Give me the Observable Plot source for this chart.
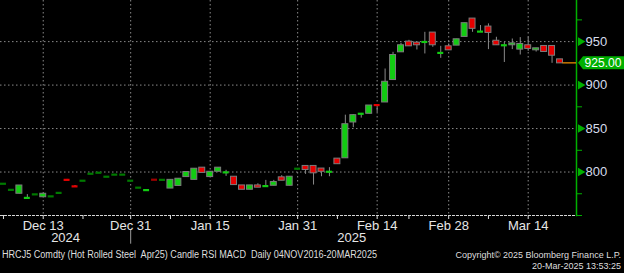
<!DOCTYPE html>
<html><head><meta charset="utf-8">
<script src="https://cdn.jsdelivr.net/npm/d3@7"></script>
<script src="https://cdn.jsdelivr.net/npm/@observablehq/plot@0.6"></script>
<style>
html,body{margin:0;padding:0;background:#000;overflow:hidden}
#chart svg{display:block}
</style></head><body><div id="chart"></div>
<script>
// ---- data ----
const dates = [
 "2024-12-06","2024-12-09","2024-12-10","2024-12-11","2024-12-12","2024-12-13",
 "2024-12-16","2024-12-17","2024-12-18","2024-12-19","2024-12-20",
 "2024-12-23","2024-12-24","2024-12-26","2024-12-27","2024-12-30","2024-12-31",
 "2025-01-02","2025-01-03","2025-01-06","2025-01-07","2025-01-08","2025-01-09","2025-01-10",
 "2025-01-13","2025-01-14","2025-01-15","2025-01-16","2025-01-17",
 "2025-01-21","2025-01-22","2025-01-23","2025-01-24",
 "2025-01-27","2025-01-28","2025-01-29","2025-01-30","2025-01-31",
 "2025-02-03","2025-02-04","2025-02-05","2025-02-06","2025-02-07",
 "2025-02-10","2025-02-11","2025-02-12","2025-02-13","2025-02-14",
 "2025-02-18","2025-02-19","2025-02-20","2025-02-21",
 "2025-02-24","2025-02-25","2025-02-26","2025-02-27","2025-02-28",
 "2025-03-03","2025-03-04","2025-03-05","2025-03-06","2025-03-07",
 "2025-03-10","2025-03-11","2025-03-12","2025-03-13","2025-03-14",
 "2025-03-17","2025-03-18","2025-03-19","2025-03-20"];
const open = [
 786.5,779.5,775,769.5,774.3,771,
 772,776,791.5,784.5,790,
 798,799.2,794.6,797,797,790,
 782,778.7,791.3,791,781,784,794.2,
 791,805,794.2,800.3,799.2,
 794.6,784.6,779.6,784.6,
 783.4,784.2,793.9,784.2,803.8,
 807,807,804,800,815.4,
 815.8,857,866.6,867,877.4,
 880,905.8,937.7,950,
 948.8,949.2,960.4,936.6,944.6,
 945.4,955.4,976.5,961.1,967.3,
 951,945.4,945.8,940.8,945.8,
 940,945,945,929.6];
const high = [
 786.5,779.5,784.5,774,774.3,775,
 772,776,791.5,784.5,790,
 798,799.2,794.6,797,797,790,
 782,779.7,791.3,791,791,792.3,800,
 803.8,805,800.3,805,802,
 794.6,784.6,784.6,786.5,
 790.4,790.4,795.8,794.6,803.8,
 807,807,804,805,815.4,
 865.4,866,867.4,876.5,877.4,
 918.5,937.7,948,951.5,
 948.8,960.7,960.4,944.6,947.3,
 952.7,971.2,976.5,968.5,970.4,
 955,949,953,954.6,955,
 942.3,945,945,929.6];
const low = [
 786.5,779.5,775,769.5,774.3,771,
 772,776,790.5,782.5,790,
 798,799.2,794.6,797,797,790,
 782,778.7,791,791,781,784,794.2,
 791,799,794.2,800.3,795,
 785,779.6,779.6,782,
 783.4,784.2,790,784.2,803.8,
 797.3,785,794.6,794.6,809,
 815.8,851,862,867,868.5,
 880,905.8,937.7,944.6,
 940.4,935.8,943.5,930.8,940,
 945.4,955.4,960.7,961.1,940.8,
 945.8,926,940.8,934.6,938.8,
 938,938.1,925,925];
const close = [
 786.5,779.5,784.5,771,774.3,775,
 772,776,790.5,782.5,790,
 798,799.2,794.6,797,797,790,
 782,779.7,791,791,791,792.3,800,
 803.8,799,800.3,805,800,
 785,779.6,784.6,782,
 784.2,788.5,790,794.6,803.8,
 802.3,798.5,800.3,800.6,809,
 855,865.4,867.4,876.5,876.6,
 903.8,934.6,945.8,944.6,
 945.8,950,945.8,937.4,940,
 952.7,971.2,964.7,961.9,960,
 945.8,946.2,948,947.3,941.6,
 942.3,938.1,933.8,925];

const xTickDates  = ["2024-12-13","2024-12-31","2025-01-15","2025-01-31","2025-02-14","2025-02-28","2025-03-14"];
const xTickLabels = ["Dec 13","Dec 31","Jan 15","Jan 31","Feb 14","Feb 28","Mar 14"];
const xMinorDates = ["2024-12-06","2024-12-20","2025-01-08","2025-01-23","2025-02-07","2025-02-21","2025-03-07"];
const yearLabels  = ["2024","2025"];
const yearAnchors = ["2024-12-18","2025-02-11"];
const yearBreak   = "2024-12-31";
const yTicks      = [800, 850, 900, 950];
const yMinorTicks = [750, 775, 825, 875, 975];
const lastPrice   = 925.00;

const footerLeft  = "HRCJ5 Comdty (Hot Rolled Steel  Apr25) Candle RSI MACD  Daily 04NOV2016-20MAR2025";
const footerRight1 = "Copyright\u00A9 2025 Bloomberg Finance L.P.";
const footerRight2 = "20-Mar-2025 13:53:25";

// ---- styles ----
const GREEN = "#12cc12", RED = "#e60000", DKGREEN = "#007a00", DKRED = "#a00000";
const AXISGREEN = "#00b000", OUTLINE = "#7c7c7c", GRID = "#8a8a8a";

const candles = dates.map((d, i) => ({date: d, open: open[i], high: high[i], low: low[i], close: close[i]}));
const isFlat = d => d.high - d.low < 0.9;
const isThin = d => Math.abs(d.open - d.close) < 2.2;
const colorOf = d => {
  const up = d.close >= d.open;
  if (isFlat(d)) return up ? DKGREEN : DKRED;
  return up ? GREEN : RED;
};

const plot = Plot.plot({
  width: 624, height: 273,
  marginTop: 0, marginLeft: 0, marginRight: 48, marginBottom: 58,
  style: {background: "#000", color: "#e8e8e8", fontFamily: "Liberation Sans, Arial, sans-serif"},
  x: {type: "band", domain: dates, paddingInner: 0.25, paddingOuter: 0.85, align: 0, round: false, label: null},
  y: {domain: [750, 997.3], label: null},
  marks: [
    Plot.ruleY(yTicks, {stroke: GRID, strokeDasharray: "1.5,2.5"}),
    Plot.ruleX(xTickDates, {stroke: GRID, strokeDasharray: "1.5,2.5"}),
    Plot.ruleY([750], {stroke: "#d6d6d6", strokeDasharray: "3,1"}),
    Plot.ruleX(candles.filter(d => !isFlat(d)), {x: "date", y1: "low", y2: "high", stroke: "#8a8a8a"}),
    Plot.barY(candles.filter(d => !isThin(d)), {x: "date", y1: "open", y2: "close", fill: colorOf, stroke: OUTLINE, strokeWidth: 1}),
    Plot.tickY(candles.filter(isThin), {x: "date", y: d => (d.open + d.close) / 2, stroke: colorOf, strokeWidth: 2.2}),
    Plot.axisX(xTickDates, {tickFormat: d => xTickLabels[xTickDates.indexOf(d)], tickSize: 4, tickPadding: 1,
      fontSize: 13, stroke: "#e0e0e0", fill: "#e6e6e6", label: null}),
    Plot.axisX(xMinorDates, {tickFormat: () => "", tickSize: 4, stroke: "#e0e0e0", label: null}),
    Plot.text(yearLabels, {x: (d, i) => yearAnchors[i], text: d => d, frameAnchor: "bottom", dy: 26, dx: -1.5,
      fontSize: 13, fill: "#e6e6e6"}),
    Plot.ruleX([yearBreak], {y1: 733, y2: 717, stroke: "#9a9a9a"}),
    Plot.frame({anchor: "right", stroke: AXISGREEN, strokeWidth: 1.5}),
    Plot.axisY(yMinorTicks, {anchor: "right", tickSize: 5, tickFormat: () => "", stroke: AXISGREEN, label: null}),
    Plot.dot(yTicks, {y: d => d, frameAnchor: "right", dx: 4, symbol: "triangle", r: 3.2, rotate: 90, fill: AXISGREEN, stroke: null}),
    Plot.axisY(yTicks, {anchor: "right", tickSize: 0, tickPadding: 9, fontSize: 13, fill: "#d6dcec", label: null})
  ]
});

document.getElementById("chart").appendChild(plot);

// last-price marker, placed with the plot's own scales
const svg = d3.select(plot);
const xs = plot.scale("x"), ys = plot.scale("y");
const yLast = ys.apply(lastPrice);
const xEnd = xs.apply(dates[dates.length - 1]) + xs.bandwidth;
const xAxis = 576;
svg.append("line").attr("x1", xEnd).attr("x2", xAxis).attr("y1", yLast).attr("y2", yLast)
  .attr("stroke", "#e68a00").attr("stroke-width", 1.3);
svg.append("path")
  .attr("d", `M${xAxis + 2},${yLast} L${xAxis + 7},${yLast - 6.5} L624,${yLast - 6.5} L624,${yLast + 6.5} L${xAxis + 7},${yLast + 6.5} Z`)
  .attr("fill", AXISGREEN);
svg.append("text").attr("x", xAxis + 8.5).attr("y", yLast).attr("dy", "0.35em").attr("text-anchor", "start")
  .attr("fill", "#ffffff").attr("font-size", 12.5).attr("textLength", 37).attr("lengthAdjust", "spacingAndGlyphs")
  .text(lastPrice.toFixed(2));

// footer
const ft = svg.append("g").attr("fill", "#dedede").attr("font-size", 10);
ft.append("text").attr("x", 2).attr("y", 258).attr("text-anchor", "start").attr("textLength", 375).attr("lengthAdjust", "spacingAndGlyphs").text(footerLeft);
ft.append("text").attr("x", 621).attr("y", 258).attr("text-anchor", "end").attr("font-size", 9).text(footerRight1);
ft.append("text").attr("x", 621).attr("y", 269).attr("text-anchor", "end").attr("font-size", 9).text(footerRight2);
</script></body></html>
